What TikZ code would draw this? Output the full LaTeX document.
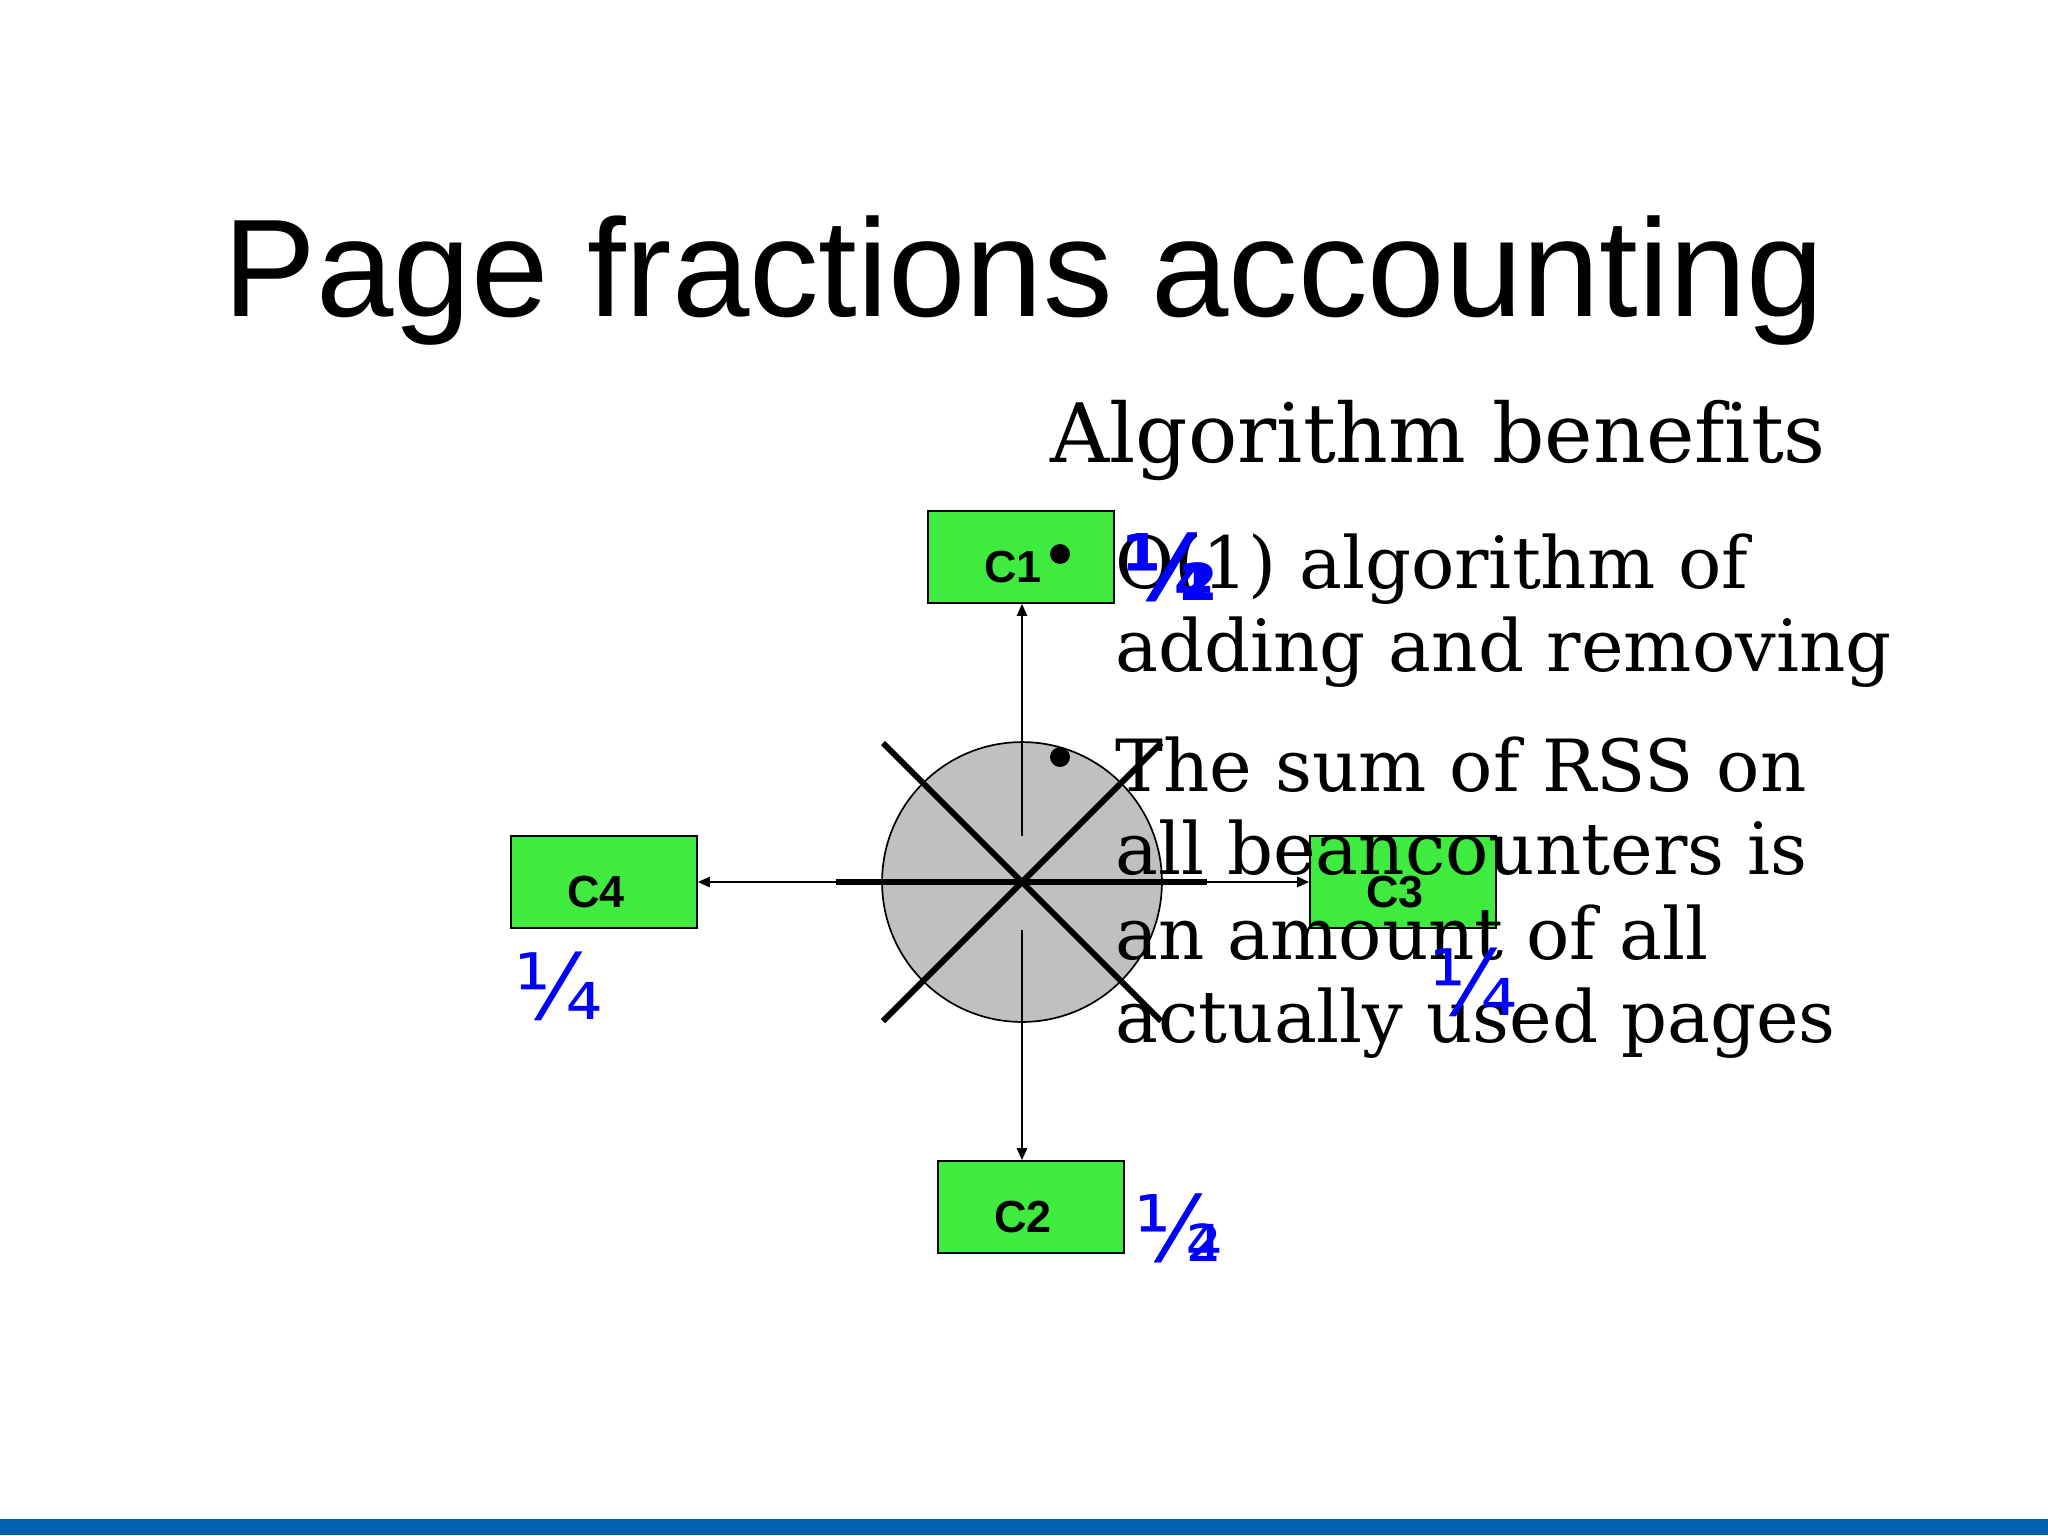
\documentclass[tikz,border=0pt]{standalone}
\usepackage{fontspec}
\setmainfont{DejaVu Serif}[Ligatures=NoCommon]
\newfontfamily\headfont{Liberation Sans}
\newfontfamily\fracfont{DejaVu Sans}
\usetikzlibrary{arrows.meta}

\definecolor{cgreen}{RGB}{64,235,64}
\definecolor{fracblue}{RGB}{0,0,255}
\definecolor{barblue}{RGB}{0,98,177}
\definecolor{discgray}{RGB}{192,192,192}

\tikzset{
  cbox/.style={draw,line width=0.6pt,fill=cgreen,minimum width=65.4pt,
    minimum height=32.35pt,inner sep=0pt},
  clabel/.style={xshift=-2.8pt,yshift=-3.5pt,
    font=\headfont\bfseries\fontsize{15.8}{17}\selectfont},
  frac/.style={text=fracblue,font=\fracfont\fontsize{32}{34}\selectfont,
    inner sep=0pt,anchor=north west},
  bodyline/.style={anchor=base west,inner sep=0pt,
    font=\fontsize{25.3}{29}\selectfont},
  dot/.style={circle,fill=black,inner sep=0pt,minimum size=7pt},
  spoke/.style={line width=2.1pt},
  >={Triangle[length=4.2pt,width=3.6pt]}
}

\begin{document}
\begin{tikzpicture}[x=0.3516pt,y=-0.3516pt]
\useasboundingbox (0,0) rectangle (2048,1535);
\fill[barblue] (0,1519) rectangle (2048,1535);

\node[anchor=base,inner sep=0pt,font=\headfont\fontsize{48.9}{52}\selectfont]
    (title) at (1024,316) {Page fractions accounting};

% disc with the spokes
\node[circle,draw,line width=0.6pt,fill=discgray,minimum size=98.4pt,inner sep=0pt]
    (disc) at (1022,882) {};
\draw[spoke] (836,882) coordinate (hl) -- (1207,882) coordinate (hr);
\draw[spoke] (883,743) -- (1161,1021);
\draw[spoke] (883,1021) -- (1161,743);
\coordinate (vt) at (1022,836);
\coordinate (vb) at (1022,930);

% the beancounters
\node[cbox,label={[clabel]center:C1}] (c1) at (1021,557) {};
\node[cbox,label={[clabel]center:C2}] (c2) at (1031,1207) {};
\node[cbox,label={[clabel]center:C3}] (c3) at (1403,882) {};
\node[cbox,label={[clabel]center:C4}] (c4) at (604,882) {};

\draw[->,line width=0.7pt] (vt) -- (vt |- c1.south);
\draw[->,line width=0.7pt] (vb) -- (vb |- c2.north);
\draw[->,line width=0.7pt] (hl) -- (c4.east);
\draw[->,line width=0.7pt] (hr) -- (c3.west);

% text block
\node[anchor=base west,inner sep=0pt,font=\fontsize{28.8}{32}\selectfont]
    (head) at (1050,462) {Algorithm benefits};
\node[dot] (bul1) at (1060,554) {};
\node[bodyline] (l1) at (1115,588) {O(1) algorithm of};
\node[bodyline] (l2) at (1115,671) {adding and removing};
\node[dot] (bul2) at (1060,757) {};
\node[bodyline] (l3) at (1115,791) {The sum of RSS on};
\node[bodyline] (l4) at (1115,874) {all beancounters is};
\node[bodyline] (l5) at (1115,959) {an amount of all};
\node[bodyline] (l6) at (1115,1042) {actually used pages};

% fractions
\node[frac,font=\fracfont\bfseries\fontsize{32}{34}\selectfont] (f1a) at (1123,532) {½};
\node[frac,font=\fracfont\bfseries\fontsize{32}{34}\selectfont] (f1b) at (1123,532) {¼};
\node[frac] (f2a) at (1134,1193) {½};
\node[frac] (f2b) at (1134,1193) {¼};
\node[frac] (f3) at (1429,947) {¼};
\node[frac] (f4) at (514,951) {¼};
\end{tikzpicture}
\end{document}
